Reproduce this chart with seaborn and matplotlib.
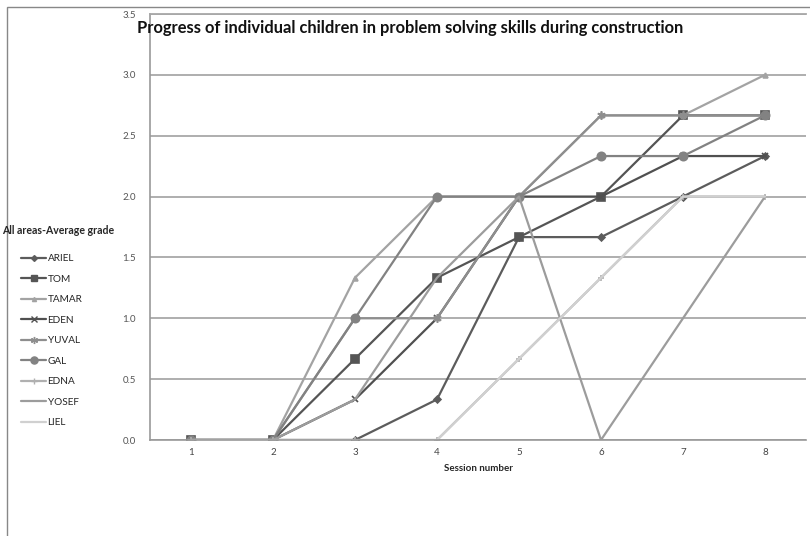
import matplotlib
matplotlib.use("Agg")
import matplotlib.pyplot as plt
import seaborn as sns
import pandas as pd
from matplotlib.patches import Rectangle
from matplotlib.lines import Line2D

sessions = [1, 2, 3, 4, 5, 6, 7, 8]
names = ["ARIEL", "TOM", "TAMAR", "EDEN", "YUVAL", "GAL", "EDNA", "YOSEF", "LIEL"]
ariel = [0, 0, 0, 0.333, 1.667, 1.667, 2.0, 2.333]
tom = [0, 0, 0.667, 1.333, 1.667, 2.0, 2.667, 2.667]
tamar = [0, 0, 1.333, 2.0, 2.0, 2.667, 2.667, 3.0]
eden = [0, 0, 0.333, 1.0, 2.0, 2.0, 2.333, 2.333]
yuval = [0, 0, 1.0, 1.0, 2.0, 2.667, 2.667, 2.667]
gal = [0, 0, 1.0, 2.0, 2.0, 2.333, 2.333, 2.667]
edna = [0, 0, 0, 0, 0.667, 1.333, 2.0, 2.0]
yosef = [0, 0, 0.333, 1.333, 2.0, 0, 1.0, 2.0]
liel = [0, 0, 0, 0, 0.667, 1.333, 2.0, 2.0]
series = [ariel, tom, tamar, eden, yuval, gal, edna, yosef, liel]
y_ticks = [0.0, 0.5, 1.0, 1.5, 2.0, 2.5, 3.0, 3.5]

rows = []
for n, vals in zip(names, series):
    for s, v in zip(sessions, vals):
        rows.append({"Session": s, "Grade": v, "Child": n})
df = pd.DataFrame(rows)

colors = {"ARIEL": "#5c5c5c", "TOM": "#555555", "TAMAR": "#a3a3a3", "EDEN": "#505050",
          "YUVAL": "#8e8e8e", "GAL": "#828282", "EDNA": "#b0b0b0", "YOSEF": "#9c9c9c",
          "LIEL": "#d0d0d0"}
markers = {"ARIEL": "D", "TOM": "s", "TAMAR": "^", "EDEN": "x", "YUVAL": (6, 2, 0),
           "GAL": "o", "EDNA": "+", "YOSEF": "", "LIEL": ""}
msizes = {"ARIEL": 3.5, "TOM": 5.5, "TAMAR": 3.5, "EDEN": 5, "YUVAL": 6, "GAL": 6,
          "EDNA": 4.5, "YOSEF": 0, "LIEL": 0}

sns.set_theme(style="white")
plt.rcParams["font.family"] = ["Lato", "DejaVu Sans"]

fig = plt.figure(figsize=(8.1, 5.36), dpi=100)
ax = fig.add_axes([150 / 810, (536 - 440) / 536, 656 / 810, 426 / 536])

for n in names:
    sub = df[df["Child"] == n]
    sns.lineplot(data=sub, x="Session", y="Grade", ax=ax, color=colors[n],
                 marker=markers[n] if markers[n] != "" else None,
                 markersize=msizes[n], markeredgecolor=colors[n],
                 markeredgewidth=1.2, linewidth=1.6, label=n, legend=False,
                 errorbar=None)

ax.set_xlim(0.5, 8.5)
ax.set_ylim(0, 3.5)
ax.set_yticks(y_ticks)
ax.set_yticklabels([f"{t:.1f}" for t in y_ticks])
ax.set_xticks(sessions)
ax.set_xticklabels([str(s) for s in sessions])
ax.set_xticks([1.5 + i for i in range(7)] + [0.5, 8.5], minor=True)
ax.tick_params(axis="x", which="major", length=0, labelsize=7, colors="#444444", pad=6)
ax.tick_params(axis="x", which="minor", length=4, color="#999999", width=1, direction="out")
ax.tick_params(axis="y", which="major", length=4, color="#999999", width=1, direction="out",
               labelsize=7, labelcolor="#555555", pad=6)
ax.yaxis.grid(True, color="#a8a8a8", linewidth=1.3)
ax.set_axisbelow(True)
ax.spines["right"].set_visible(False)
ax.spines["left"].set_color("#999999")
ax.spines["left"].set_linewidth(1.2)
ax.spines["bottom"].set_color("#999999")
ax.spines["bottom"].set_linewidth(1.2)
ax.spines["top"].set_color("#a8a8a8")
ax.spines["top"].set_linewidth(1.3)
ax.set_xlabel("Session number", fontsize=7, fontweight="bold", labelpad=5)
ax.set_ylabel("")

fig.text(137 / 810, 1 - 28 / 536, "Progress of individual children in problem solving skills during construction",
         fontsize=11.9, fontweight="bold", va="center", ha="left", color="#111111")
fig.text(2 / 810, 1 - 230 / 536, "All areas-Average grade", fontsize=7.6, fontweight="bold",
         va="center", ha="left")

handles = [Line2D([], [], color=colors[n], marker=markers[n] if markers[n] != "" else None,
                  markersize=msizes[n] * 0.85, markeredgecolor=colors[n], linewidth=1.6)
           for n in names]
fig.legend(handles, names, loc="upper left", bbox_to_anchor=(17 / 810, 1 - 250 / 536),
           frameon=False, fontsize=7.2, handlelength=2.5, labelspacing=1.15,
           handletextpad=0.15, borderaxespad=0)

fig.patches.append(Rectangle((7 / 810, -0.1), 1.2, 1 - 7 / 536 + 0.1, transform=fig.transFigure,
                             fill=False, edgecolor="#888888", linewidth=1.0))

fig.savefig("out.png", dpi=100)
